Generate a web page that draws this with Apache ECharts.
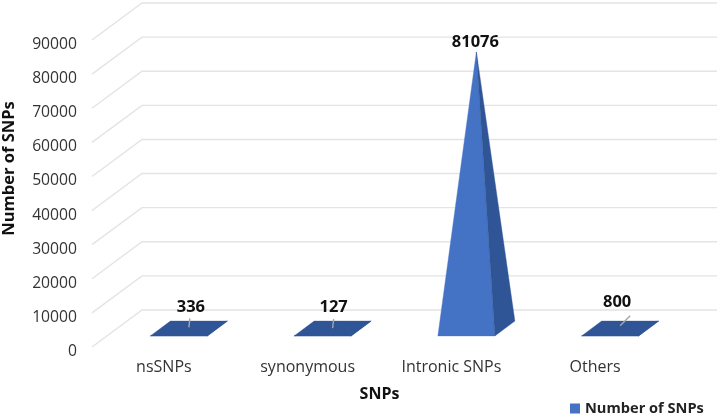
<!DOCTYPE html>
<html>
<head>
<meta charset="utf-8">
<style>html,body{margin:0;padding:0;background:#fff}#c{width:720px;height:415px}</style>
<script src="https://cdn.jsdelivr.net/npm/echarts@6/dist/echarts.min.js"></script>
</head>
<body>
<div id="c"></div>
<script>
const categories = ['nsSNPs', 'synonymous', 'Intronic SNPs', 'Others'];
const snpCounts = [336, 127, 81076, 800];
const tickValues = [0, 10000, 20000, 30000, 40000, 50000, 60000, 70000, 80000, 90000];
const seriesName = 'Number of SNPs';

// view layout of the fake 3D box (pixels), separate from the data
const FONT = '"Open Sans", "Noto Sans", sans-serif';
const DEPTH = [50, -37];
const BASE_HALF = 28.5;
const BASE_DEPTH = 0.2;
const FLAT_BELOW = 5000;
const LABEL_OFFSETS = [[2, -20], [1, -21], [-1, -10], [-3, -23]];
const LEADERS = [[1, -9], [1, -9], null, [10, -10]];

const chart = echarts.init(document.getElementById('c'));

function poly(points, fill) {
  return { type: 'polygon', shape: { points }, style: { fill, stroke: fill, lineWidth: 0.4 } };
}

function renderPyramid(params, api) {
  const i = api.value(0), v = api.value(1);
  const front = api.coord([i, 0]);
  const top = api.coord([i, v]);
  const cx = front[0] + DEPTH[0] / 2, cy = front[1] + DEPTH[1] / 2;
  const ax = cx, ay = top[1] + DEPTH[1] / 2;
  const ox = DEPTH[0] * BASE_DEPTH, oy = DEPTH[1] * BASE_DEPTH;
  const fl = [cx - BASE_HALF - ox, cy - oy];
  const fr = [cx + BASE_HALF - ox, cy - oy];
  const br = [cx + BASE_HALF + ox, cy + oy];
  const bl = [cx - BASE_HALF + ox, cy + oy];
  const flat = v < FLAT_BELOW;
  const light = '#4472C4', dark = '#2F5597';
  const children = [];
  if (flat) children.push(poly([fl, fr, br, bl], dark));
  children.push(poly([fl, fr, [ax, ay]], flat ? dark : light));
  children.push(poly([fr, br, [ax, ay]], dark));
  const lead = LEADERS[i];
  if (lead) {
    children.push({
      type: 'line',
      shape: { x1: ax, y1: ay, x2: ax + lead[0], y2: ay + lead[1] },
      style: { stroke: '#A6A6A6', lineWidth: 1.4 }
    });
  }
  const off = LABEL_OFFSETS[i];
  children.push({
    type: 'text',
    style: {
      x: ax + off[0], y: ay + off[1], text: String(v),
      align: 'center', verticalAlign: 'middle',
      font: 'bold 16.5px ' + FONT, fill: '#111111'
    }
  });
  return { type: 'group', children };
}

function renderWall(params, api) {
  const y = api.coord([0, api.value(0)])[1];
  const g = params.coordSys;
  return {
    type: 'polyline',
    shape: { points: [[g.x, y], [g.x + DEPTH[0], y + DEPTH[1]], [g.x + g.width + DEPTH[0], y + DEPTH[1]]] },
    style: { fill: 'none', stroke: '#E4E4E4', lineWidth: 1.4 }
  };
}

chart.setOption({
  animation: false,
  backgroundColor: '#ffffff',
  textStyle: { fontFamily: FONT },
  grid: { left: 92, top: 40, width: 575, height: 307, outerBoundsMode: 'none' },
  legend: {
    data: [seriesName], left: 570, top: 401, icon: 'rect', padding: 0,
    itemWidth: 10, itemHeight: 10, itemGap: 5,
    selectedMode: false,
    textStyle: { fontFamily: FONT, fontWeight: 'bold', fontSize: 14.6, color: '#222222', padding: [0, 0, 0, 0] }
  },
  xAxis: {
    type: 'category', data: categories,
    axisLine: { show: false }, axisTick: { show: false }, splitLine: { show: false },
    axisLabel: { fontFamily: FONT, fontSize: 16, color: '#333333', margin: 12 },
    name: 'SNPs', nameLocation: 'middle', nameGap: 39,
    nameTextStyle: { fontFamily: FONT, fontWeight: 'bold', fontSize: 16, color: '#111111', padding: [0, 0, 0, 0] }
  },
  yAxis: {
    type: 'value', min: 0, max: 90000, interval: 10000,
    axisLine: { show: false }, axisTick: { show: false }, splitLine: { show: false },
    axisLabel: { fontFamily: FONT, fontSize: 15.7, color: '#333333', margin: 15, verticalAlign: 'top', lineHeight: 9, formatter: (v) => String(v) },
    name: 'Number of SNPs', nameLocation: 'middle', nameGap: 74,
    nameTextStyle: { fontFamily: FONT, fontWeight: 'bold', fontSize: 16.5, color: '#111111', padding: [0, 0, 0, 50] }
  },
  series: [
    {
      type: 'custom', silent: true, z: 1, clip: false,
      coordinateSystem: 'cartesian2d', encode: { x: 1, y: 0 },
      data: tickValues.map((t) => [t, 0]),
      renderItem: renderWall
    },
    {
      name: seriesName, type: 'custom', z: 2, clip: false,
      coordinateSystem: 'cartesian2d', encode: { x: 0, y: 1 },
      itemStyle: { color: '#4472C4' },
      data: snpCounts.map((v, i) => [i, v]),
      renderItem: renderPyramid
    }
  ]
});
</script>
</body>
</html>
